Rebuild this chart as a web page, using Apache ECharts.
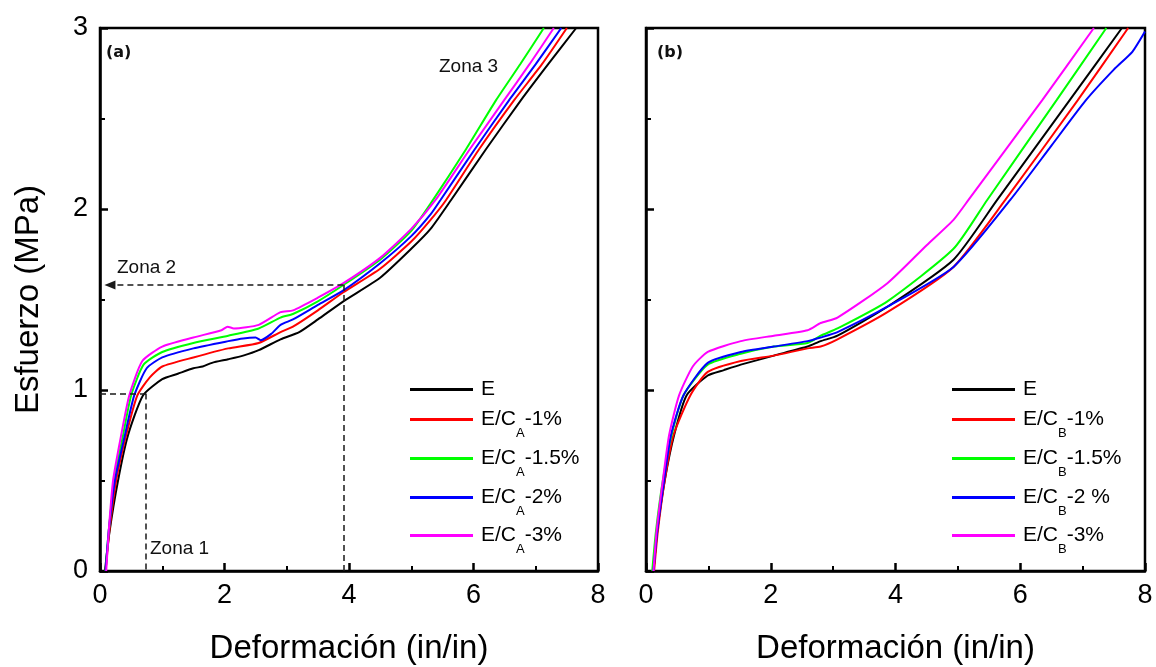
<!DOCTYPE html>
<html>
<head>
<meta charset="utf-8">
<script src="https://cdn.jsdelivr.net/npm/echarts@6/dist/echarts.min.js"></script>
<style>
html, body { margin: 0; padding: 0; background: #fff; }
#chart { width: 1156px; height: 667px; }
</style>
</head>
<body>
<div id="chart"></div>
<script>
// Stress–strain curves, [strain (in/in), stress (MPa)]

// Panel (a): E and E/C_A composites
const curveA_E = [[0.08,0],[0.15,0.21],[0.29,0.5],[0.45,0.75],[0.69,0.97],[1.0,1.06],[1.25,1.09],[1.5,1.12],[1.65,1.13],[1.8,1.15],[2.06,1.17],[2.3,1.19],[2.55,1.22],[2.9,1.28],[3.2,1.32],[3.5,1.39],[3.91,1.49],[4.5,1.62],[5.0,1.78],[5.31,1.89],[5.64,2.05],[6.2,2.33],[6.76,2.6],[7.2,2.8],[7.65,3.0]];
const curveA_1 = [[0.09,0],[0.15,0.22],[0.26,0.5],[0.42,0.75],[0.6,0.97],[0.8,1.07],[1.0,1.13],[1.5,1.18],[2.06,1.23],[2.55,1.26],[2.9,1.32],[3.1,1.35],[3.5,1.44],[3.91,1.54],[4.5,1.67],[5.0,1.82],[5.31,1.94],[5.56,2.05],[6.09,2.33],[6.65,2.6],[7.1,2.8],[7.5,3.0]];
const curveA_15 = [[0.09,0],[0.14,0.22],[0.23,0.5],[0.37,0.75],[0.5,0.97],[0.7,1.14],[1.0,1.21],[1.5,1.26],[2.06,1.30],[2.55,1.34],[2.9,1.40],[3.1,1.42],[3.5,1.49],[3.91,1.58],[4.5,1.72],[5.0,1.88],[5.31,2.03],[5.88,2.33],[6.36,2.6],[6.75,2.8],[7.13,3.0]];
const curveA_2 = [[0.09,0],[0.14,0.22],[0.24,0.5],[0.4,0.75],[0.55,0.97],[0.75,1.12],[1.0,1.18],[1.5,1.23],[2.06,1.27],[2.3,1.285],[2.5,1.29],[2.58,1.275],[2.75,1.31],[2.9,1.36],[3.1,1.39],[3.5,1.47],[3.91,1.55],[4.5,1.70],[5.0,1.85],[5.31,1.97],[5.47,2.05],[6.02,2.33],[6.57,2.6],[7.0,2.8],[7.41,3.0]];
const curveA_3 = [[0.1,0],[0.14,0.22],[0.21,0.5],[0.34,0.75],[0.47,0.97],[0.68,1.16],[1.0,1.24],[1.5,1.29],[1.95,1.33],[2.05,1.35],[2.15,1.34],[2.55,1.36],[2.9,1.43],[3.1,1.44],[3.5,1.51],[3.91,1.59],[4.5,1.73],[5.0,1.89],[5.39,2.05],[5.94,2.33],[6.49,2.6],[6.9,2.8],[7.29,3.0]];

// Panel (b): E and E/C_B composites
const curveB_E = [[0.12,0],[0.18,0.22],[0.3,0.5],[0.45,0.75],[0.65,0.97],[0.99,1.08],[1.25,1.11],[1.52,1.14],[2.05,1.19],[2.59,1.24],[2.8,1.27],[3.07,1.30],[3.87,1.46],[4.93,1.72],[5.63,2.05],[6.79,2.6],[7.63,3.0]];
const curveB_1 = [[0.13,0],[0.19,0.22],[0.3,0.5],[0.44,0.75],[0.71,0.97],[0.99,1.10],[1.52,1.16],[2.05,1.19],[2.59,1.23],[2.8,1.24],[3.07,1.28],[3.87,1.43],[4.93,1.68],[5.76,2.05],[6.92,2.6],[7.73,3.0]];
const curveB_15 = [[0.1,0],[0.16,0.22],[0.27,0.5],[0.41,0.75],[0.6,0.97],[0.99,1.14],[1.52,1.20],[2.05,1.24],[2.59,1.26],[2.8,1.30],[3.07,1.34],[3.87,1.49],[4.93,1.78],[5.47,2.05],[6.58,2.6],[7.38,3.0]];
const curveB_2 = [[0.12,0],[0.18,0.22],[0.29,0.5],[0.4,0.75],[0.6,0.97],[0.99,1.15],[1.52,1.21],[2.05,1.24],[2.59,1.27],[2.8,1.29],[3.07,1.32],[3.87,1.46],[4.93,1.68],[5.84,2.05],[6.5,2.35],[7.05,2.6],[7.5,2.77],[7.8,2.87],[8.0,2.98]];
const curveB_3 = [[0.12,0],[0.17,0.22],[0.27,0.5],[0.37,0.75],[0.53,0.97],[0.75,1.13],[0.99,1.21],[1.52,1.27],[2.05,1.30],[2.59,1.33],[2.8,1.37],[3.07,1.40],[3.87,1.59],[4.5,1.80],[4.93,1.94],[5.17,2.05],[6.35,2.6],[7.18,3.0]];

const namesA = ['E', 'E/C_A-1%', 'E/C_A-1.5%', 'E/C_A-2%', 'E/C_A-3%'];
const namesB = ['E', 'E/C_B-1%', 'E/C_B-1.5%', 'E/C_B-2 %', 'E/C_B-3%'];
const dataA = [curveA_E, curveA_1, curveA_15, curveA_2, curveA_3];
const dataB = [curveB_E, curveB_1, curveB_15, curveB_2, curveB_3];
const colors = ['#000000', '#ff0000', '#00ff00', '#0000ff', '#ff00ff'];

// Zone guides in panel (a): [strain, stress]
const zone1Point = [0.74, 0.98];
const zone2Point = [3.91, 1.58];

const FONT = 'Liberation Sans, Arial, sans-serif';

function xAxisFor(gridIndex) {
  return {
    type: 'value', gridIndex: gridIndex, min: 0, max: 8, interval: 2,
    name: 'Deformación (in/in)', nameLocation: 'middle', nameGap: 61,
    nameTextStyle: { fontFamily: FONT, fontSize: 33, color: '#000' },
    axisLine: { show: true, onZero: false, lineStyle: { color: '#000', width: 2.5 } },
    axisTick: { show: true, inside: true, length: 8, lineStyle: { color: '#000', width: 2.5 } },
    minorTick: { show: true, splitNumber: 2, length: 5, lineStyle: { color: '#000', width: 2 } },
    splitLine: { show: false }, minorSplitLine: { show: false },
    axisLabel: { show: true, color: '#000', fontFamily: FONT, fontSize: 27, margin: 11, showMinLabel: true, showMaxLabel: true }
  };
}
function yAxisFor(gridIndex, withLabels) {
  return {
    type: 'value', gridIndex: gridIndex, min: 0, max: 3, interval: 1,
    name: withLabels ? 'Esfuerzo (MPa)' : '', nameLocation: 'middle', nameGap: 55,
    nameTextStyle: { fontFamily: FONT, fontSize: 33, color: '#000' },
    axisLine: { show: true, onZero: false, lineStyle: { color: '#000', width: 2.5 } },
    axisTick: { show: true, inside: true, length: 8, lineStyle: { color: '#000', width: 2.5 } },
    minorTick: { show: true, splitNumber: 2, length: 5, lineStyle: { color: '#000', width: 2 } },
    splitLine: { show: false }, minorSplitLine: { show: false },
    axisLabel: { show: withLabels, color: '#000', fontFamily: FONT, fontSize: 27, margin: 12, showMinLabel: true, showMaxLabel: true }
  };
}

// One legend block per row so each row sits at its own height
const legendRowCenters = [388, 419, 458, 497, 535];
function legendRow(name, left, center) {
  const plain = !/_[AB]/.test(name);
  return {
    data: [name], orient: 'vertical', left: left, padding: 0,
    top: plain ? center - 9 : center - 10,
    itemWidth: 63, itemHeight: 3, icon: 'rect', selectedMode: false,
    itemStyle: { borderWidth: 0 },
    formatter: function (n) {
      const mm = n.match(/^(.*C)_([AB])(.*)$/);
      return mm ? '{f|' + mm[1] + '}{s|' + mm[2] + '}{n|' + mm[3] + '}' : '{e|' + n + '}';
    },
    textStyle: {
      fontFamily: FONT, fontSize: 21, color: '#000',
      rich: {
        e: { fontFamily: FONT, fontSize: 21, lineHeight: 23, color: '#000', padding: [0, 0, 0, 3] },
        f: { fontFamily: FONT, fontSize: 21, lineHeight: 40, color: '#000', padding: [0, 0, 0, 3] },
        n: { fontFamily: FONT, fontSize: 21, lineHeight: 40, color: '#000' },
        s: { fontFamily: FONT, fontSize: 13, lineHeight: 13, color: '#000', verticalAlign: 'bottom' }
      }
    }
  };
}
const legends = [];
namesA.forEach(function (n, i) { legends.push(legendRow(n, 410, legendRowCenters[i])); });
namesB.forEach(function (n, i) { legends.push(legendRow(n, 952, legendRowCenters[i])); });

const guideStyle = { color: '#1a1a1a', width: 1.5, type: [6, 4] };

const series = [];
dataA.forEach(function (d, i) {
  const s = {
    name: namesA[i], type: 'line', xAxisIndex: 0, yAxisIndex: 0, data: d,
    showSymbol: false, smooth: 0.2,
    lineStyle: { color: colors[i], width: 2 }, itemStyle: { color: colors[i] },
    emphasis: { disabled: true }, silent: true
  };
  if (i === 0) {
    s.markLine = {
      silent: true, symbol: 'none', animation: false,
      label: { show: false }, emphasis: { disabled: true },
      lineStyle: guideStyle,
      data: [
        [{ coord: [0, zone1Point[1]] }, { coord: zone1Point }],
        [{ coord: zone1Point }, { coord: [zone1Point[0], 0] }],
        [{ coord: zone2Point, symbol: 'none' }, { coord: [0.16, zone2Point[1]], symbol: 'triangle', symbolSize: [9, 11] }],
        [{ coord: zone2Point }, { coord: [zone2Point[0], 0] }]
      ]
    };
  }
  series.push(s);
});
dataB.forEach(function (d, i) {
  series.push({
    name: namesB[i], type: 'line', xAxisIndex: 1, yAxisIndex: 1, data: d,
    showSymbol: false, smooth: 0.2,
    lineStyle: { color: colors[i], width: 2 }, itemStyle: { color: colors[i] },
    emphasis: { disabled: true }, silent: true
  });
});

function label(text, x, y, font) {
  return { type: 'text', x: x, y: y, silent: true,
    style: { text: text, font: font, fill: '#111', verticalAlign: 'middle', align: 'left' } };
}

const chart = echarts.init(document.getElementById('chart'), null, { renderer: 'canvas' });
chart.setOption({
  animation: false,
  backgroundColor: '#fff',
  grid: [
    { left: 100, top: 28, width: 498, height: 543, show: true, borderColor: '#000', borderWidth: 2.5, outerBoundsMode: 'none' },
    { left: 646, top: 28, width: 499, height: 543, show: true, borderColor: '#000', borderWidth: 2.5, outerBoundsMode: 'none' }
  ],
  xAxis: [xAxisFor(0), xAxisFor(1)],
  yAxis: [yAxisFor(0, true), yAxisFor(1, false)],
  legend: legends,
  series: series,
  graphic: [
    label('(a)', 106, 53, 'bold 16px "DejaVu Sans", sans-serif'),
    label('(b)', 657, 53, 'bold 16px "DejaVu Sans", sans-serif'),
    label('Zona 1', 150, 549, '19px ' + FONT),
    label('Zona 2', 117, 268, '19px ' + FONT),
    label('Zona 3', 439, 67, '19px ' + FONT)
  ]
});
</script>
</body>
</html>
